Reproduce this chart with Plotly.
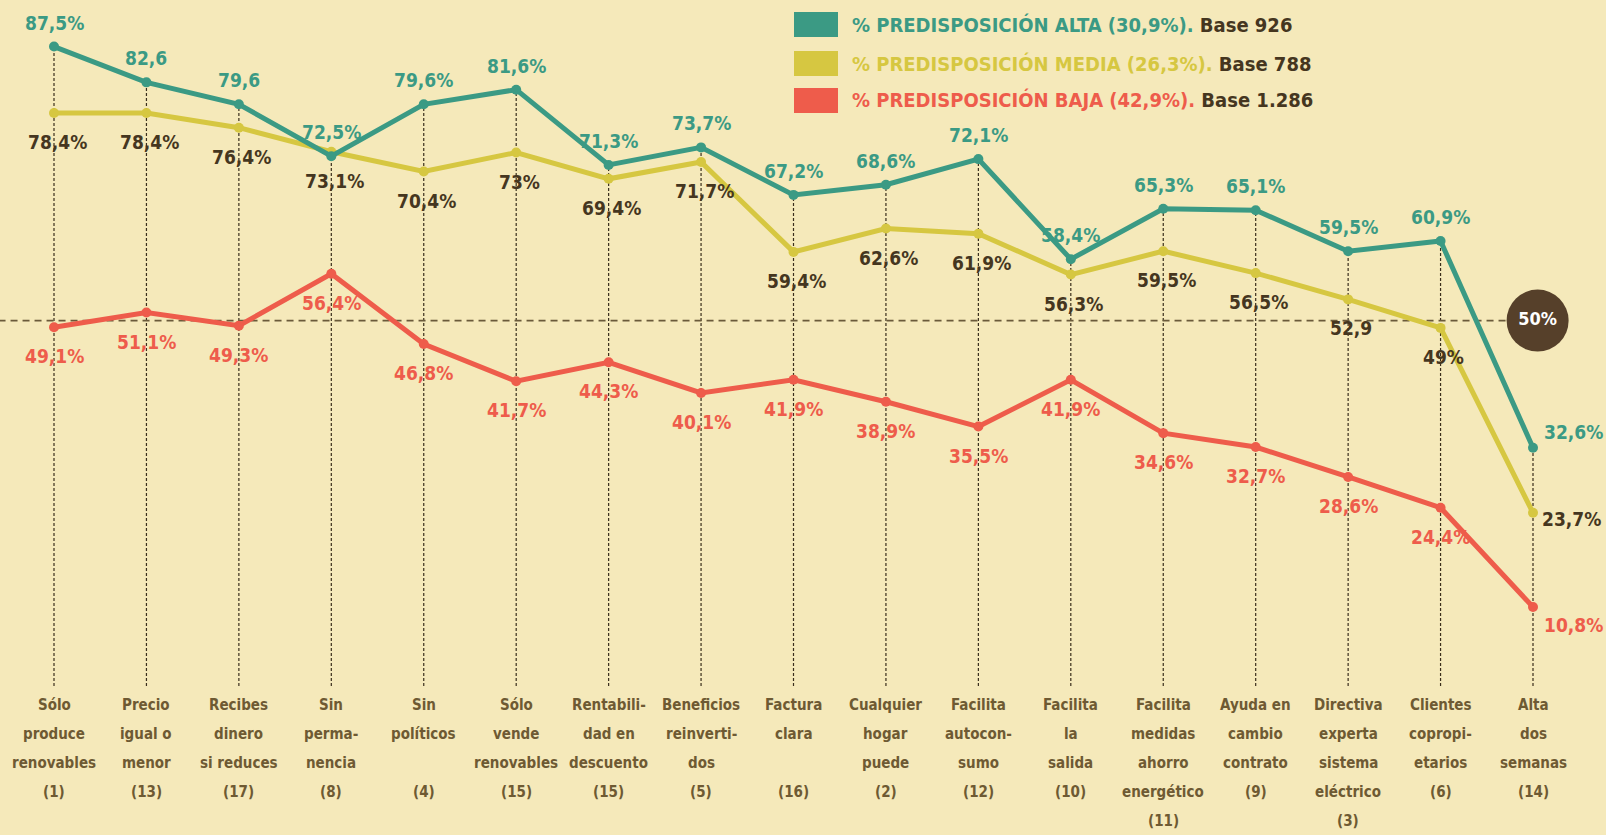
import plotly.graph_objects as go

# ---------------- data ----------------
cat_lines = [
    ["Sólo", "produce", "renovables", "(1)"],
    ["Precio", "igual o", "menor", "(13)"],
    ["Recibes", "dinero", "si reduces", "(17)"],
    ["Sin", "perma-", "nencia", "(8)"],
    ["Sin", "políticos", "", "(4)"],
    ["Sólo", "vende", "renovables", "(15)"],
    ["Rentabili-", "dad en", "descuento", "(15)"],
    ["Beneficios", "reinverti-", "dos", "(5)"],
    ["Factura", "clara", "", "(16)"],
    ["Cualquier", "hogar", "puede", "(2)"],
    ["Facilita", "autocon-", "sumo", "(12)"],
    ["Facilita", "la", "salida", "(10)"],
    ["Facilita", "medidas", "ahorro", "energético", "(11)"],
    ["Ayuda en", "cambio", "contrato", "(9)"],
    ["Directiva", "experta", "sistema", "eléctrico", "(3)"],
    ["Clientes", "copropi-", "etarios", "(6)"],
    ["Alta", "dos", "semanas", "(14)"],
]
categories = [" ".join(l for l in lines if l) for lines in cat_lines]

alta = [87.5, 82.6, 79.6, 72.5, 79.6, 81.6, 71.3, 73.7, 67.2, 68.6, 72.1, 58.4, 65.3, 65.1, 59.5, 60.9, 32.6]
media = [78.4, 78.4, 76.4, 73.1, 70.4, 73.0, 69.4, 71.7, 59.4, 62.6, 61.9, 56.3, 59.5, 56.5, 52.9, 49.0, 23.7]
baja = [49.1, 51.1, 49.3, 56.4, 46.8, 41.7, 44.3, 40.1, 41.9, 38.9, 35.5, 41.9, 34.6, 32.7, 28.6, 24.4, 10.8]

alta_labels = ["87,5%", "82,6", "79,6", "72,5%", "79,6%", "81,6%", "71,3%", "73,7%", "67,2%",
               "68,6%", "72,1%", "58,4%", "65,3%", "65,1%", "59,5%", "60,9%", "32,6%"]
media_labels = ["78,4%", "78,4%", "76,4%", "73,1%", "70,4%", "73%", "69,4%", "71,7%", "59,4%",
                "62,6%", "61,9%", "56,3%", "59,5%", "56,5%", "52,9", "49%", "23,7%"]
baja_labels = ["49,1%", "51,1%", "49,3%", "56,4%", "46,8%", "41,7%", "44,3%", "40,1%", "41,9%",
               "38,9%", "35,5%", "41,9%", "34,6%", "32,7%", "28,6%", "24,4%", "10,8%"]

legend_names = ["% PREDISPOSICIÓN ALTA (30,9%).", "% PREDISPOSICIÓN MEDIA (26,3%).", "% PREDISPOSICIÓN BAJA (42,9%)."]
legend_bases = ["Base 926", "Base 788", "Base 1.286"]

threshold = 50
threshold_label = "50%"

# ---------------- style ----------------
W, H = 1606, 835
BG = "#F5E9BA"
TEAL = "#3B9A84"
YELLOW = "#D6C741"
RED = "#EE5C4B"
DARK = "#45361F"
LABEL_BROWN = "#6E5A33"
CIRCLE = "#56402A"
FONT = "DejaVu Sans Condensed, Liberation Sans Narrow, sans-serif"

x = list(range(len(categories)))

fig = go.Figure()

# vertical dashed guides (from axis bottom up to the highest point of each category)
for i in x:
    top = max(alta[i], media[i], baja[i])
    fig.add_shape(type="line", xref="x", yref="y", x0=i, x1=i, y0=0, y1=top,
                  line=dict(color="#3A2E1C", width=1.2, dash="3px,2px"), layer="below")

# horizontal 50% dashed line
fig.add_shape(type="line", xref="x", yref="y", x0=-0.6, x1=len(x) - 1.2, y0=threshold, y1=threshold,
              line=dict(color="#6A5A3A", width=1.6, dash="7px,5px"), layer="below")

series = [
    (baja, baja_labels, RED, RED, (0, -29), (40, -18)),
    (media, media_labels, YELLOW, DARK, (3, -29), (38, -6)),
    (alta, alta_labels, TEAL, TEAL, (0, 24), (40, 16)),
]

for vals, labels, col, lcol, off, off_last in series:
    fig.add_trace(go.Scatter(
        x=x, y=vals, mode="lines+markers",
        line=dict(color=col, width=5),
        marker=dict(color=col, size=10),
        hoverinfo="skip", showlegend=False,
    ))
    for i, (v, t) in enumerate(zip(vals, labels)):
        dx, dy = off_last if i == len(vals) - 1 else off
        fig.add_annotation(x=i, y=v, xref="x", yref="y", text=t, showarrow=False,
                           xshift=dx, yshift=dy,
                           font=dict(family=FONT, size=19, color=lcol, weight="bold"))

# 50% circle
fig.add_trace(go.Scatter(
    x=[len(x) - 1 + 0.05], y=[threshold], mode="markers+text",
    marker=dict(color=CIRCLE, size=62, line=dict(width=0)),
    text=[threshold_label], textposition="middle center",
    textfont=dict(family=FONT, size=18, color="white", weight="bold"),
    hoverinfo="skip", showlegend=False,
))

# category labels, line by line
line0_px, line_step_px = 705, 29
for i, lines in enumerate(cat_lines):
    for k, txt in enumerate(lines):
        if not txt:
            continue
        py = line0_px + line_step_px * k
        fig.add_annotation(x=i, y=1 - py / H, xref="x", yref="paper", text=txt, showarrow=False,
                           yanchor="middle",
                           font=dict(family=FONT, size=15, color=LABEL_BROWN, weight="bold"))

# legend (squares + coloured text)
leg_rows_px = [24.6, 63.5, 100.4]
leg_cols = [TEAL, YELLOW, RED]
for name, base, col, py in zip(legend_names, legend_bases, leg_cols, leg_rows_px):
    fig.add_shape(type="rect", xref="paper", yref="paper",
                  x0=794 / W, x1=838 / W, y0=1 - (py - 12.5) / H, y1=1 - (py + 12.5) / H,
                  fillcolor=col, line=dict(width=0))
    fig.add_annotation(x=850 / W, y=1 - py / H, xref="paper", yref="paper", showarrow=False,
                       xanchor="left", yanchor="middle",
                       text=f"<span style='color:{col}'>{name}</span> <span style='color:{DARK}'>{base}</span>",
                       font=dict(family=FONT, size=20, weight="bold"))

px_per_x = (1533 - 54) / 16
px_per_y = 7.308
fig.update_layout(
    width=W, height=H,
    margin=dict(l=0, r=0, t=0, b=0),
    paper_bgcolor=BG, plot_bgcolor=BG,
    xaxis=dict(range=[-54 / px_per_x, 16 + (W - 1533) / px_per_x], visible=False, fixedrange=True),
    yaxis=dict(range=[50 - (H - 320.6) / px_per_y, 50 + 320.6 / px_per_y], visible=False, fixedrange=True),
    showlegend=False,
)

fig.write_html("out.html", config={"displayModeBar": False},
               post_script="document.body.style.margin='0';document.body.style.background='%s';" % BG)
